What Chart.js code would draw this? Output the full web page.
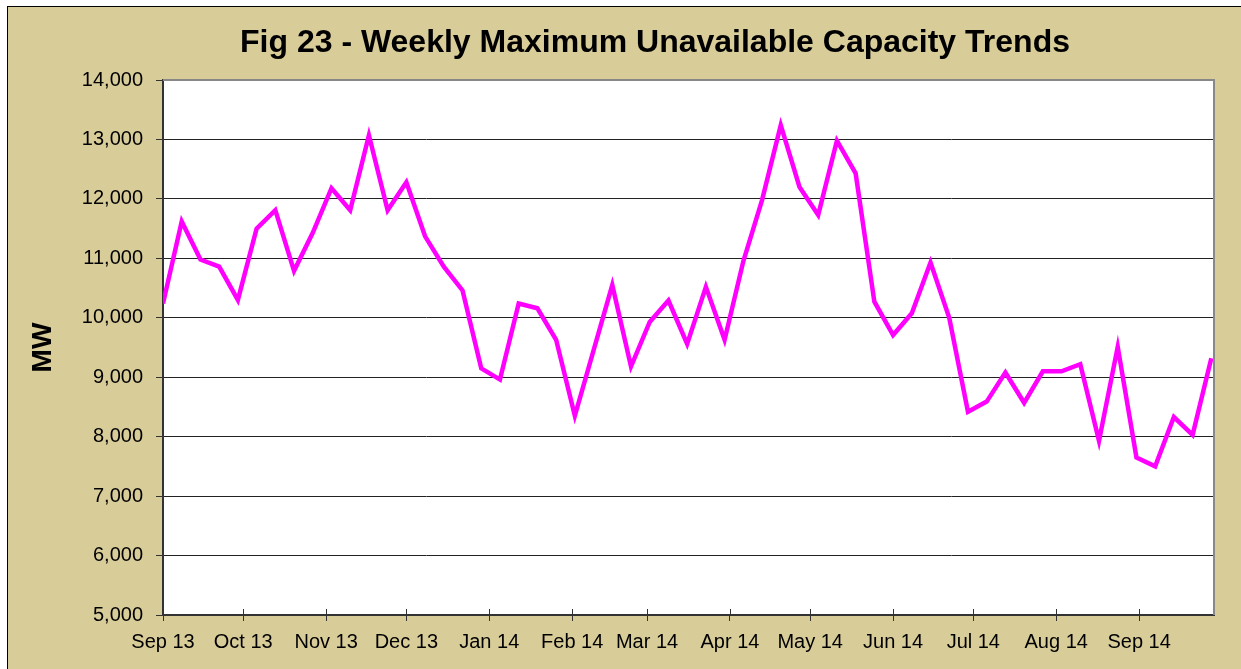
<!DOCTYPE html>
<html lang="en">
<head>
  <meta charset="UTF-8">
  <title>Fig 23 - Weekly Maximum Unavailable Capacity Trends</title>
  <style>
    html, body { margin: 0; padding: 0; background: #fff; overflow: hidden; }
    .chart-wrap {
      position: absolute;
      left: 7px;
      top: 6px;
      width: 1234px;
      height: 663px;
      border-left: 1px solid #000;
      border-top: 1px solid #000;
      background: #d8cc99;
    }
  </style>
</head>
<body>
  <script src="https://cdn.jsdelivr.net/npm/chart.js@4.4.0/dist/chart.umd.min.js"></script>

  <div class="chart-wrap">
    <canvas id="chart" width="1233" height="662"></canvas>
  </div>

  <script>
  // weekly values, first week starting 1 Sep 2013
  const firstWeek = '2013-09-01'
  const maxUnavailableMW = [
    10240, 11620, 10980, 10860, 10300, 11500, 11810, 10790, 11430, 12180,
    11810, 13070, 11810, 12280, 11370, 10860, 10460, 9150, 8960, 10240,
    10160, 9630, 8350, 9450, 10550, 9180, 9930, 10290, 9560, 10520,
    9630, 10950, 11980, 13240, 12200, 11730, 12980, 12430, 10270, 9710,
    10075, 10930, 10000, 8420, 8590, 9080, 8570, 9100, 9100, 9220,
    7930, 9510, 7650, 7500, 8330, 8030, 9320
  ]

  const monthStarts = [
    '2013-09-01', '2013-10-01', '2013-11-01', '2013-12-01', '2014-01-01', '2014-02-01',
    '2014-03-01', '2014-04-01', '2014-05-01', '2014-06-01', '2014-07-01', '2014-08-01', '2014-09-01'
  ]
  const monthLabels = [
    'Sep 13', 'Oct 13', 'Nov 13', 'Dec 13', 'Jan 14', 'Feb 14',
    'Mar 14', 'Apr 14', 'May 14', 'Jun 14', 'Jul 14', 'Aug 14', 'Sep 14'
  ]

  const yMin = 5000
  const yMax = 14000
  const yStep = 1000

  const FONT = '"Liberation Sans", Arial, sans-serif'

  // days since the first week, so the x scale behaves like a date axis
  const t0 = Date.parse(firstWeek)
  const toDay = (d) => (Date.parse(d) - t0) / 864e5
  const monthDays = monthStarts.map(toDay)
  const points = maxUnavailableMW.map((v, i) => ({ x: i * 7, y: v }))

  const plotFrame = {
    id: 'plotFrame',
    beforeDraw(chart) {
      const { ctx, chartArea: a } = chart
      ctx.save()
      ctx.fillStyle = '#fff'
      ctx.fillRect(a.left, a.top, a.right - a.left, a.bottom - a.top)
      ctx.restore()
    },
    afterDraw(chart) {
      const { ctx, chartArea: a } = chart
      const xs = chart.scales.x
      ctx.save()
      ctx.strokeStyle = '#888'
      ctx.lineWidth = 2
      ctx.beginPath()
      ctx.moveTo(a.left, a.top)
      ctx.lineTo(a.right, a.top)
      ctx.lineTo(a.right, a.bottom)
      ctx.stroke()
      // x tick marks cross the axis, excel style
      ctx.strokeStyle = '#333'
      ctx.lineWidth = 1
      ctx.beginPath()
      monthDays.forEach(d => {
        const px = Math.round(xs.getPixelForValue(d)) + 0.5
        ctx.moveTo(px, a.bottom)
        ctx.lineTo(px, a.bottom - 6)
      })
      ctx.stroke()
      // chart title
      ctx.fillStyle = '#000'
      ctx.font = 'bold 32px ' + FONT
      ctx.textAlign = 'center'
      ctx.textBaseline = 'middle'
      ctx.fillText('Fig 23 - Weekly Maximum Unavailable Capacity Trends', 647, 36)
      ctx.restore()
    }
  }

  new Chart(document.getElementById('chart'), {
    type: 'line',
    data: {
      datasets: [{
        label: 'Weekly Maximum Unavailable Capacity',
        data: points,
        borderColor: '#ff00ff',
        borderWidth: 4.5,
        pointRadius: 0,
        tension: 0,
        fill: false
      }]
    },
    options: {
      responsive: false,
      animation: false,
      layout: { padding: { top: 73, right: 27, left: 0, bottom: 0 } },
      plugins: {
        legend: { display: false },
        tooltip: { enabled: false }
      },
      scales: {
        x: {
          type: 'linear',
          min: 0,
          max: 393,
          afterBuildTicks: (scale) => {
            scale.ticks = monthDays.map(v => ({ value: v }))
          },
          afterFit: (scale) => { scale.height = 54 },
          grid: {
            drawOnChartArea: false,
            drawTicks: true,
            tickLength: 6,
            color: '#333'
          },
          border: { display: true, color: '#333', width: 2 },
          ticks: {
            autoSkip: false,
            maxRotation: 0,
            padding: 9,
            color: '#000',
            font: { family: FONT, size: 20 },
            callback: (v, i) => monthLabels[i]
          }
        },
        y: {
          min: yMin,
          max: yMax,
          afterFit: (scale) => { scale.width = 155 },
          grid: {
            color: (c) => c.tick && c.tick.value === yMax ? 'rgba(0,0,0,0)' : '#222',
            lineWidth: 1,
            tickColor: '#333',
            tickLength: 7
          },
          border: { display: true, color: '#333', width: 2 },
          ticks: {
            stepSize: yStep,
            padding: 13,
            color: '#000',
            font: { family: FONT, size: 20 },
            callback: (v) => v.toLocaleString('en-US')
          },
          title: {
            display: true,
            text: 'MW',
            color: '#000',
            font: { family: FONT, size: 28, weight: 'bold' },
            padding: { top: 18, bottom: 0 }
          }
        }
      }
    },
    plugins: [plotFrame]
  })
  </script>
</body>
</html>
